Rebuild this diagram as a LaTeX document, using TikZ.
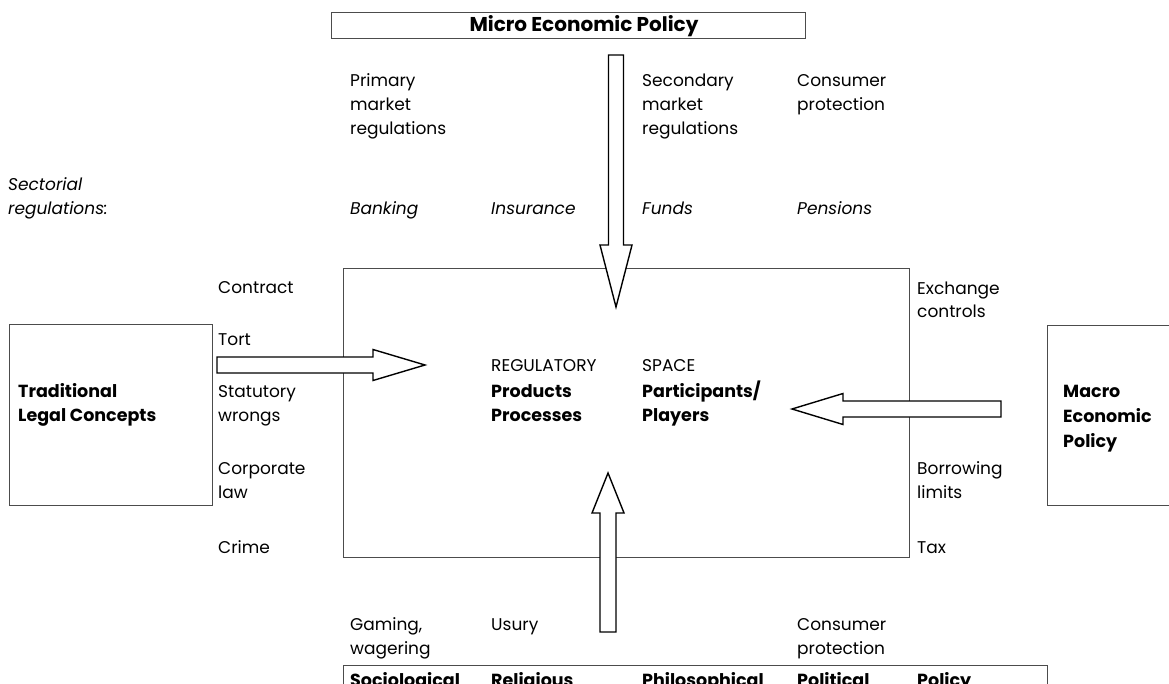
\documentclass[tikz,border=0pt]{standalone}
\usepackage{fontspec}
\setmainfont{Poppins}
\usetikzlibrary{calc}

% Block arrow: #1 tail, #2 tip, #3 shaft half-width, #4 head half-width, #5 head length
\newcommand\blockarrow[5]{%
  \coordinate (ba-base) at ($(#2)!#5!(#1)$);
  \draw[bigarrow]
    ($(#1)!#3!90:(#2)$) -- ($(ba-base)!#3!-90:(#1)$) -- ($(ba-base)!#4!-90:(#1)$)
    -- (#2) -- ($(ba-base)!#4!90:(#1)$) -- ($(ba-base)!#3!90:(#1)$)
    -- ($(#1)!#3!-90:(#2)$) -- cycle;}

% multi-line labels are placed by the baseline of their last line
\tikzset{
  frame/.style={draw=black!70, line width=0.9pt},
  bigarrow/.style={draw=black, fill=white, line width=1.4pt, line join=miter},
  lbl/.style={inner sep=0pt, anchor=base west, align=left,
              font=\fontsize{17}{24}\selectfont},
  hdr/.style={lbl, font=\fontsize{17.5}{24}\selectfont\bfseries},
  sect/.style={lbl, font=\fontsize{17}{24}\selectfont\itshape},
}

\begin{document}
\begin{tikzpicture}[x=1pt, y=-1pt]
\useasboundingbox (0,0) rectangle (1169,684);

% outer boxes
\draw[frame] (331,12) rectangle (805,38);
\node[hdr, anchor=base, font=\fontsize{20}{24}\selectfont\bfseries] (micro) at (584,32) {Micro Economic Policy};

\draw[frame] (9,324) rectangle (212,505);
\node[hdr] (trad) at (18,421) {Traditional\\Legal Concepts};

\draw[frame] (1047,325) rectangle (1185,505);
\node[hdr, font=\fontsize{17.5}{25}\selectfont\bfseries] (macro) at (1063,447) {Macro\\Economic\\Policy};

\draw[frame] (343,665) rectangle (1047,700);
\node[hdr] (soc) at (350,686) {Sociological};
\node[hdr] (rel) at (491,686) {Religious};
\node[hdr] (phil) at (642,686) {Philosophical};
\node[hdr] (pol) at (797,686) {Political};
\node[hdr] (pcy) at (917,686) {Policy};

% regulatory space
\node[frame, minimum width=566pt, minimum height=289pt, inner sep=0pt] (space) at (626,412.5) {};
\node[lbl] (regul) at (491,371) {REGULATORY};
\node[lbl] (spc) at (642,371) {SPACE};
\node[hdr] (prod) at (491,421) {Products\\Processes};
\node[hdr] (part) at (642,421) {Participants/\\Players};

% micro-economic labels
\node[lbl] (prim) at (350,135) {Primary\\market\\regulations};
\node[lbl] (sec) at (642,135) {Secondary\\market\\regulations};
\node[lbl] (cons) at (797,111) {Consumer\\protection};

\node[sect] (sectorial) at (8,215) {Sectorial\\regulations:};
\node[sect] (bank) at (350,215) {Banking};
\node[sect] (ins) at (491,215) {Insurance};
\node[sect] (fund) at (642,215) {Funds};
\node[sect] (pens) at (797,215) {Pensions};

% legal concepts
\node[lbl] (contract) at (218,294) {Contract};
\node[lbl] (tort) at (218,345) {Tort};
\node[lbl] (stat) at (218,421) {Statutory\\wrongs};
\node[lbl] (corp) at (218,498) {Corporate\\law};
\node[lbl] (crime) at (218,553) {Crime};

% macro-economic labels
\node[lbl] (exch) at (917,318) {Exchange\\controls};
\node[lbl] (borrow) at (917,498) {Borrowing\\limits};
\node[lbl] (tax) at (917,553) {Tax};

% societal labels
\node[lbl] (gaming) at (350,654) {Gaming,\\wagering};
\node[lbl] (usury) at (491,630) {Usury};
\node[lbl] (cons2) at (797,654) {Consumer\\protection};

% arrow ends
\coordinate (microTail) at (616,55);
\coordinate (microTip) at (616,307);
\coordinate (legalTail) at (217,365);
\coordinate (legalTip) at (425,365);
\coordinate (macroTail) at (1001,409);
\coordinate (macroTip) at (792,409);
\coordinate (socTail) at (608,632);
\coordinate (socTip) at (608,473);

\blockarrow{microTail}{microTip}{7.5pt}{16pt}{62pt}
\blockarrow{legalTail}{legalTip}{8pt}{15.5pt}{52pt}
\blockarrow{macroTail}{macroTip}{8pt}{15.5pt}{51pt}
\blockarrow{socTail}{socTip}{8pt}{16pt}{40pt}
\end{tikzpicture}
\end{document}
